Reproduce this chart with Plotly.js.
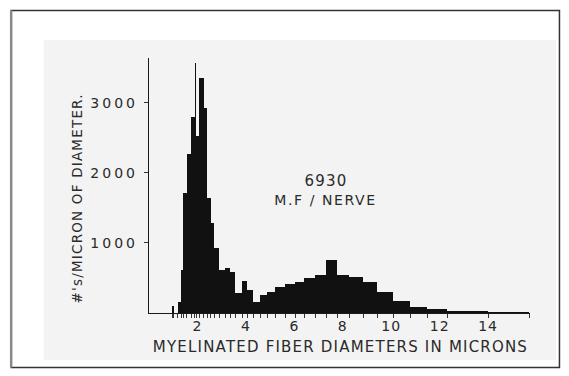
<!DOCTYPE html>
<html>
<head>
<meta charset="utf-8">
<script src="https://cdn.plot.ly/plotly-3.0.1.min.js"></script>
<style>
  html, body { margin: 0; padding: 0; background: #ffffff; }
  #chart { width: 569px; height: 376px; }
</style>
</head>
<body>
<div id="chart"></div>
<script>
// Histogram bins (microns) and counts (#'s per micron of diameter)
const binStart = [0.95, 1.18, 1.34, 1.42, 1.55, 1.75, 1.88, 1.96, 2.08, 2.25, 2.41, 2.54, 2.70, 2.91, 3.15, 3.36, 3.57, 3.86, 4.06, 4.31, 4.60, 4.89, 5.22, 5.63, 6.04, 6.41, 6.87, 7.32, 7.77, 8.27, 8.85, 9.42, 10.08, 10.78, 11.48, 12.31, 14.00];
const binEnd   = [1.02, 1.34, 1.42, 1.55, 1.75, 1.88, 1.96, 2.08, 2.25, 2.41, 2.54, 2.70, 2.91, 3.15, 3.36, 3.57, 3.86, 4.06, 4.31, 4.60, 4.89, 5.22, 5.63, 6.04, 6.41, 6.87, 7.32, 7.77, 8.27, 8.85, 9.42, 10.08, 10.78, 11.48, 12.31, 14.00, 15.70];
const counts   = [100, 160, 610, 1710, 2270, 2800, 3570, 2530, 3357, 2930, 1640, 1290, 930, 620, 640, 590, 285, 457, 330, 160, 250, 305, 370, 415, 440, 500, 543, 750, 543, 510, 445, 305, 165, 80, 57, 30, 18];

const xTickVals = [2, 4, 6, 8, 10, 12, 14];
const xTickText = ["2", "4", "6", "8", "10", "12", "14"];
const yTickVals = [1000, 2000, 3000];
const yTickText = ["1000", "2000", "3000"];

const mids = binStart.map((s, i) => (s + binEnd[i]) / 2);
const widths = binStart.map((s, i) => binEnd[i] - s);
const edges = Array.from(new Set(binStart.concat(binEnd))).sort((a, b) => a - b);

// pixel -> paper helpers (plot area: x 148.5..530, y 58..313)
const L = 148.5, R = 530, T = 58, B = 313, W = 569, H = 376;
const px = v => (v - L) / (R - L);
const py = v => (B - v) / (B - T);

const font = "DejaVu Sans, Liberation Sans, sans-serif";
const ink = "#2a2a2a";

const traces = [
  {
    type: "bar",
    x: mids,
    y: counts,
    width: widths,
    marker: { color: "#111111", line: { width: 0 } },
    hoverinfo: "x+y",
    showlegend: false
  },
  {
    type: "scatter",
    x: xTickVals,
    y: xTickVals.map(() => 0),
    xaxis: "x2",
    mode: "none",
    hoverinfo: "skip",
    showlegend: false
  }
];

const layout = {
  width: W,
  height: H,
  margin: { l: L, r: W - R, t: T, b: H - B, pad: 0 },
  paper_bgcolor: "#ffffff",
  plot_bgcolor: "rgba(0,0,0,0)",
  showlegend: false,
  bargap: 0,
  xaxis: {
    range: [0, 15.73],
    showgrid: false,
    zeroline: false,
    showline: true,
    linecolor: "#1a1a1a",
    linewidth: 1.2,
    ticks: "outside",
    ticklen: 4,
    tickwidth: 1,
    tickcolor: "#333",
    tickmode: "array",
    tickvals: edges,
    showticklabels: false
  },
  xaxis2: {
    range: [0, 15.73],
    overlaying: "x",
    anchor: "y",
    side: "bottom",
    showgrid: false,
    zeroline: false,
    showline: false,
    ticks: "",
    tickmode: "array",
    tickvals: xTickVals,
    ticktext: xTickText,
    ticklabelstandoff: 3,
    tickfont: { family: font, size: 14, color: ink }
  },
  yaxis: {
    range: [0, 3640],
    showgrid: false,
    zeroline: false,
    showline: true,
    linecolor: "#1a1a1a",
    linewidth: 1.2,
    ticks: "outside",
    ticklen: 4,
    tickwidth: 1,
    tickcolor: "#333",
    tickmode: "array",
    tickvals: yTickVals,
    ticktext: yTickText,
    ticklabelstandoff: 3,
    tickfont: { family: font, size: 14, color: ink }
  },
  shapes: [
    // scanned page tone
    { type: "rect", xref: "paper", yref: "paper", layer: "below",
      x0: px(43), x1: px(556), y0: py(360), y1: py(40),
      fillcolor: "#f3f3f3", line: { width: 0 } },
    // outer frame
    { type: "rect", xref: "paper", yref: "paper", layer: "below",
      x0: px(10.5), x1: px(559.5), y0: py(367.5), y1: py(10.5),
      fillcolor: "rgba(0,0,0,0)", line: { color: "#333333", width: 1.5 } },
    { type: "line", xref: "paper", yref: "paper", layer: "below",
      x0: px(10.5), x1: px(10.5), y0: py(367.5), y1: py(10.5),
      line: { color: "#8a8a8a", width: 2.5 } }
  ],
  annotations: [
    { text: "6930", xref: "paper", yref: "paper", x: px(326), y: py(181),
      showarrow: false, xanchor: "center", yanchor: "middle",
      font: { family: font, size: 15, color: ink } },
    { text: "M.F / NERVE", xref: "paper", yref: "paper", x: px(325), y: py(200),
      showarrow: false, xanchor: "center", yanchor: "middle",
      font: { family: font, size: 14, color: ink } },
    { text: "MYELINATED FIBER DIAMETERS IN MICRONS", xref: "paper", yref: "paper",
      x: px(340), y: py(347), showarrow: false, xanchor: "center", yanchor: "middle",
      font: { family: font, size: 15, color: ink } },
    { text: "#'s/MICRON OF DIAMETER.", xref: "paper", yref: "paper",
      x: px(76), y: py(198), showarrow: false, textangle: -90,
      xanchor: "center", yanchor: "middle",
      font: { family: font, size: 13.5, color: ink } }
  ]
};

// letter spacing to mimic the wide hand lettering (px)
const annSpacing = [1.2, 1.6, 1.2, 1.2];

Plotly.newPlot("chart", traces, layout, { displayModeBar: false, staticPlot: true }).then(() => {
  const anns = document.querySelectorAll("#chart .annotation-text");
  anns.forEach((el, i) => { el.style.letterSpacing = annSpacing[i] + "px"; });
  document.querySelectorAll("#chart g.ytick text").forEach(el => { el.style.letterSpacing = "3px"; });
  document.querySelectorAll("#chart g.x2tick text").forEach(el => { el.style.letterSpacing = "1px"; });
});
</script>
</body>
</html>
